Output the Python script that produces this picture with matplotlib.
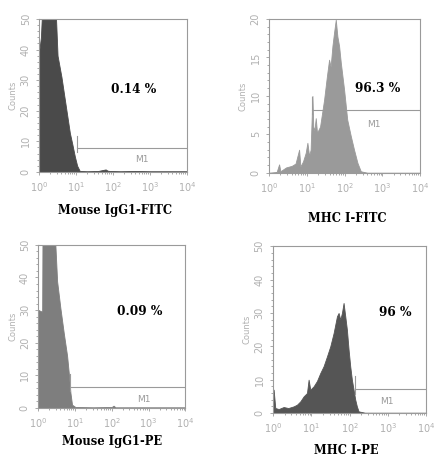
import numpy as np
import matplotlib.pyplot as plt
from matplotlib.ticker import LogLocator, MultipleLocator, NullFormatter

# histogram profiles: log10(fluorescence) and counts
iso_fitc_log = [0.0, 0.01, 0.05, 0.11, 0.2, 0.3, 0.425, 0.5, 0.606, 0.68, 0.742, 0.833, 0.9, 0.968, 1.03, 1.10, 1.3, 1.6, 1.8, 1.85, 1.9, 2.2, 2.6, 3.0, 3.5, 4.0]
iso_fitc_cnt = [40, 40, 44, 60, 60, 60, 60, 38, 31, 25, 20, 12.7, 9, 5, 2, 0.3, 0.2, 0.3, 0.8, 0.4, 0.3, 0.2, 0.3, 0.2, 0.2, 0.2]

mhc_fitc_log = [0.0, 0.2, 0.265, 0.3, 0.45, 0.6, 0.7, 0.795, 0.83, 0.9, 0.97, 1.015, 1.06, 1.1, 1.148, 1.17, 1.2, 1.236, 1.27, 1.35, 1.457, 1.53, 1.589, 1.63, 1.678, 1.72, 1.766, 1.81, 1.854, 1.9, 1.987, 2.07, 2.163, 2.25, 2.34, 2.428, 2.6, 3.0, 4.0]
mhc_fitc_cnt = [0, 0.1, 1.1, 0.2, 0.7, 0.9, 1.2, 3.0, 0.8, 1.5, 2.6, 3.9, 2.2, 3.0, 10, 6, 5.5, 7.1, 5.2, 6.0, 9.5, 12.5, 14.7, 13.8, 16.5, 18.2, 19.9, 17.7, 16.5, 14.3, 10.8, 6.9, 4.8, 3.0, 1.3, 0.2, 0, 0, 0]

iso_pe_log = [0.0, 0.01, 0.108, 0.12, 0.2, 0.3, 0.424, 0.515, 0.605, 0.695, 0.786, 0.83, 0.876, 0.92, 1.01, 1.5, 2.0, 2.05, 2.1, 3.0, 4.0]
iso_pe_cnt = [30, 30, 29.5, 60, 60, 60, 60, 38.8, 30.5, 23, 16, 10.9, 4.7, 1.0, 0.3, 0.2, 0.3, 0.7, 0.2, 0.2, 0.2]

mhc_pe_log = [0.0, 0.017, 0.06, 0.15, 0.278, 0.4, 0.54, 0.626, 0.713, 0.8, 0.887, 0.93, 0.974, 1.06, 1.148, 1.235, 1.32, 1.41, 1.496, 1.583, 1.67, 1.713, 1.757, 1.8, 1.843, 1.887, 1.93, 1.974, 2.017, 2.06, 2.104, 2.148, 2.19, 2.235, 2.4, 4.0]
mhc_pe_cnt = [7, 7, 1.5, 1.2, 1.8, 1.5, 2.0, 2.5, 3.5, 5, 6, 10, 7, 8, 9.6, 12, 14, 17, 20, 24, 29, 30, 28, 30, 33, 29, 25, 19, 14, 10, 7, 4, 2, 0.5, 0.1, 0.1]

xlabels = ["Mouse IgG1-FITC", "MHC I-FITC", "Mouse IgG1-PE", "MHC I-PE"]
percents = ["0.14 %", "96.3 %", "0.09 %", "96 %"]
ymax = [50, 20, 50, 50]
ystep = [10, 5, 10, 10]
# M1 gate: start (log10), line level, label position (log10, count), percent position (log10, count)
m1_start = [1.03, 1.148, 0.876, 2.148]
m1_level = [7.8, 8.2, 6.4, 7.1]
m1_label = [(2.78, 4.0), (2.78, 6.3), (2.86, 2.6), (2.97, 3.5)]
pct_pos = [(2.55, 27), (2.87, 10.9), (2.77, 29.5), (3.19, 30)]

profiles = [(iso_fitc_log, iso_fitc_cnt), (mhc_fitc_log, mhc_fitc_cnt),
            (iso_pe_log, iso_pe_cnt), (mhc_pe_log, mhc_pe_cnt)]
colors = ["#4a4a4a", "#9a9a9a", "#7e7e7e", "#555555"]
rects = [[0.090, 0.628, 0.341, 0.331], [0.620, 0.626, 0.348, 0.333],
         [0.088, 0.117, 0.339, 0.353], [0.629, 0.106, 0.353, 0.361]]
label_xy = [(115, 210), (347, 218), (112, 442), (346, 451)]

grey = "#9a9a9a"
fig = plt.figure(figsize=(4.34, 4.62), dpi=100)

for i in range(4):
    ax = fig.add_axes(rects[i])
    lg, cnt = profiles[i]
    x = 10 ** np.array(lg)
    ax.fill_between(x, cnt, 0, color=colors[i], lw=0.6, edgecolor=colors[i])
    ax.set_xscale("log")
    ax.set_xlim(1, 1e4)
    ax.set_ylim(0, ymax[i])

    # M1 marker
    xs = 10 ** m1_start[i]
    lvl = m1_level[i]
    ax.plot([xs, 1e4], [lvl, lvl], color=grey, lw=0.8)
    ax.plot([xs, xs], [lvl - 0.025 * ymax[i], lvl + 0.08 * ymax[i]], color=grey, lw=0.8)
    ax.text(10 ** m1_label[i][0], m1_label[i][1], "M1", color=grey, fontsize=6.5,
            ha="center", va="center")

    ax.text(10 ** pct_pos[i][0], pct_pos[i][1], percents[i], fontsize=8.7,
            fontweight="bold", family="DejaVu Serif", ha="center", va="center")

    for s in ax.spines.values():
        s.set_color(grey)
        s.set_linewidth(0.8)
    ax.xaxis.set_major_locator(LogLocator(base=10, numticks=10))
    ax.xaxis.set_minor_locator(LogLocator(base=10, subs=np.arange(2, 10), numticks=10))
    ax.xaxis.set_minor_formatter(NullFormatter())
    ax.yaxis.set_major_locator(MultipleLocator(ystep[i]))
    ax.yaxis.set_minor_locator(MultipleLocator(ystep[i] / 5))
    ax.tick_params(axis="both", which="both", colors=grey, labelcolor="#b0b0b0",
                   labelsize=7, length=2.5, width=0.6)
    ax.tick_params(axis="both", which="minor", length=1.5)
    for lab in ax.get_yticklabels():
        lab.set_rotation(90)
        lab.set_va("center")
    ax.set_ylabel("Counts", color="#b0b0b0", fontsize=6, labelpad=2)

    lx, ly = label_xy[i]
    fig.text(lx / 434, 1 - ly / 462, xlabels[i], fontsize=8.3, fontweight="bold",
             family="DejaVu Serif", ha="center", va="center")

fig.savefig("out.png", dpi=100)
